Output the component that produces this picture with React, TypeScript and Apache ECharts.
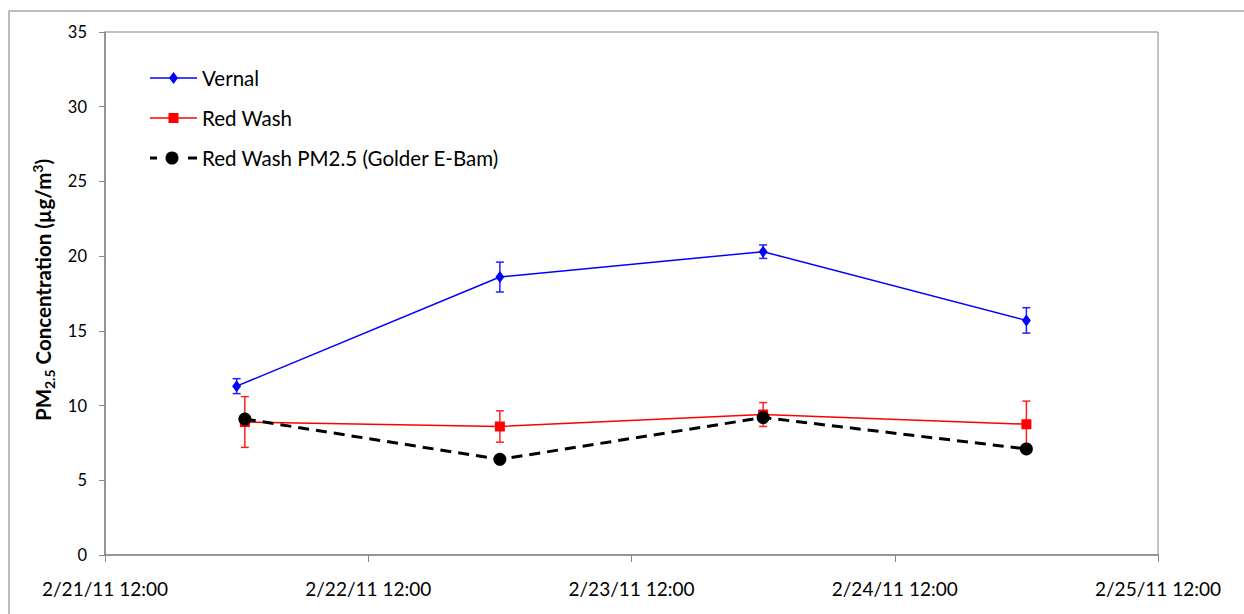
import React, { useEffect, useRef } from "react";
import * as echarts from "echarts";

// ---- data (times as M/D/YY HH:mm) ----
const ORIGIN = "2/21/11 12:00";
const xTickHours = [0, 24, 48, 72, 96];

const vernalTimes = ["2/22/11 00:00", "2/23/11 00:00", "2/24/11 00:00", "2/25/11 00:00"];
const vernalValues = [11.3, 18.6, 20.3, 15.7];
const vernalErrors = [0.5, 1.0, 0.45, 0.85];

const redWashTimes = ["2/22/11 00:45", "2/23/11 00:00", "2/24/11 00:00", "2/25/11 00:00"];
const redWashValues = [8.9, 8.6, 9.4, 8.75];
const redWashErrors = [1.7, 1.05, 0.8, 1.55];

const golderTimes = ["2/22/11 00:45", "2/23/11 00:00", "2/24/11 00:00", "2/25/11 00:00"];
const golderValues = [9.1, 6.4, 9.2, 7.1];

const yTicks = { min: 0, max: 35, interval: 5 };

const FONT = "Lato, 'Noto Sans', sans-serif";
const AXIS_COLOR = "#868686";

function parseTime(s: string): number {
  const [d, t] = s.split(" ");
  const [m, day, yy] = d.split("/").map(Number);
  const [hh, mm] = t.split(":").map(Number);
  return Date.UTC(2000 + yy, m - 1, day, hh, mm);
}
const originMs = parseTime(ORIGIN);
const toHours = (s: string) => (parseTime(s) - originMs) / 3600000;

function fmtHours(h: number): string {
  const d = new Date(originMs + h * 3600000);
  const hh = String(d.getUTCHours()).padStart(2, "0");
  const mm = String(d.getUTCMinutes()).padStart(2, "0");
  const yy = String(d.getUTCFullYear() % 100).padStart(2, "0");
  return `${d.getUTCMonth() + 1}/${d.getUTCDate()}/${yy} ${hh}:${mm}`;
}

function errorSeries(times: string[], vals: number[], errs: number[], color: string) {
  return {
    type: "custom",
    data: times.map((t, i) => [toHours(t), vals[i] - errs[i], vals[i] + errs[i]]),
    encode: { x: 0, y: [1, 2] },
    silent: true,
    renderItem: (params: any, api: any) => {
      const x = api.value(0);
      const lo = api.coord([x, api.value(1)]);
      const hi = api.coord([x, api.value(2)]);
      const cap = 4;
      const style = { stroke: color, lineWidth: 1.5, fill: "none" };
      return {
        type: "group",
        children: [
          { type: "line", shape: { x1: lo[0], y1: lo[1], x2: hi[0], y2: hi[1] }, style },
          { type: "line", shape: { x1: hi[0] - cap, y1: hi[1], x2: hi[0] + cap, y2: hi[1] }, style },
          { type: "line", shape: { x1: lo[0] - cap, y1: lo[1], x2: lo[0] + cap, y2: lo[1] }, style },
        ],
      };
    },
    z: 2,
  };
}

export default function App() {
  const ref = useRef<HTMLDivElement>(null);
  useEffect(() => {
    if (!ref.current) return;
    const chart = echarts.init(ref.current, undefined, { renderer: "svg" });
    const legendX = 150;
    const legendTextX = 202;
    const rows = [78, 118, 158];
    const LEG_FS = 20.5;
    const option: any = {
      animation: false,
      backgroundColor: "#ffffff",
      textStyle: { fontFamily: FONT },
      grid: {
        left: 105,
        top: 32,
        right: 86,
        bottom: 59,
        show: true,
        borderColor: AXIS_COLOR,
        borderWidth: 1,
        containLabel: false,
      },
      xAxis: {
        type: "value",
        min: xTickHours[0],
        max: xTickHours[xTickHours.length - 1],
        interval: 24,
        axisLine: { show: true, lineStyle: { color: AXIS_COLOR, width: 1.5 } },
        axisTick: { show: true, length: 7, lineStyle: { color: AXIS_COLOR, width: 1 } },
        splitLine: { show: false },
        axisLabel: {
          formatter: (v: number) => fmtHours(v),
          fontFamily: FONT,
          fontSize: 19,
          color: "#000",
          margin: 24,
          showMinLabel: true,
          showMaxLabel: true,
        },
      },
      yAxis: {
        type: "value",
        min: yTicks.min,
        max: yTicks.max,
        interval: yTicks.interval,
        axisLine: { show: true, lineStyle: { color: AXIS_COLOR, width: 1.5 } },
        axisTick: { show: true, length: 6, lineStyle: { color: AXIS_COLOR, width: 1 } },
        splitLine: { show: false },
        axisLabel: { fontFamily: FONT, fontSize: 16.5, color: "#000", margin: 18 },
      },
      series: [
        errorSeries(vernalTimes, vernalValues, vernalErrors, "#2020FF"),
        {
          name: "Vernal",
          type: "line",
          data: vernalTimes.map((t, i) => [toHours(t), vernalValues[i]]),
          symbol: "diamond",
          symbolSize: [9, 12],
          lineStyle: { color: "#0000FF", width: 1.5 },
          itemStyle: { color: "#0000FF" },
          z: 3,
        },
        errorSeries(redWashTimes, redWashValues, redWashErrors, "#FF2020"),
        {
          name: "Red Wash",
          type: "line",
          data: redWashTimes.map((t, i) => [toHours(t), redWashValues[i]]),
          symbol: "rect",
          symbolSize: 10,
          lineStyle: { color: "#FF0000", width: 1.5 },
          itemStyle: { color: "#FF0000" },
          z: 3,
        },
        {
          name: "Red Wash PM2.5 (Golder E-Bam)",
          type: "line",
          data: golderTimes.map((t, i) => [toHours(t), golderValues[i]]),
          symbol: "circle",
          symbolSize: 13,
          lineStyle: { color: "#000000", width: 3, type: [11, 7] },
          itemStyle: { color: "#000000" },
          z: 4,
        },
      ],
      graphic: [
        {
          type: "rect",
          shape: { x: 9, y: 11, width: 1400, height: 800 },
          style: { fill: "none", stroke: "#A6A6A6", lineWidth: 1.5 },
          silent: true,
          z: -10,
        },
        {
          type: "text",
          x: 43,
          y: 290,
          rotation: Math.PI / 2,
          style: {
            text: "{a|PM}{s|2.5}{a| Concentration (µg/m}{p|3}{a|)}",
            align: "center",
            verticalAlign: "middle",
            fill: "#000",
            rich: {
              a: { fontFamily: FONT, fontSize: 20.5, fontWeight: "bold", lineHeight: 26, verticalAlign: "middle", fill: "#000" },
              s: { fontFamily: FONT, fontSize: 14, fontWeight: "bold", lineHeight: 14, verticalAlign: "bottom", fill: "#000" },
              p: { fontFamily: FONT, fontSize: 14, fontWeight: "bold", lineHeight: 14, verticalAlign: "top", fill: "#000" },
            },
          },
        },
        // legend: Vernal
        { type: "line", shape: { x1: legendX, y1: rows[0], x2: legendX + 47, y2: rows[0] }, style: { stroke: "#0000FF", lineWidth: 1.5 } },
        { type: "polygon", shape: { points: [[173.5, rows[0] - 6], [178, rows[0]], [173.5, rows[0] + 6], [169, rows[0]]] }, style: { fill: "#0000FF" } },
        { type: "text", x: legendTextX, y: rows[0], style: { text: "Vernal", fontFamily: FONT, fontSize: LEG_FS, fill: "#000", verticalAlign: "middle" } },
        // legend: Red Wash
        { type: "line", shape: { x1: legendX, y1: rows[1], x2: legendX + 47, y2: rows[1] }, style: { stroke: "#FF0000", lineWidth: 1.5 } },
        { type: "rect", shape: { x: 168.5, y: rows[1] - 5, width: 10, height: 10 }, style: { fill: "#FF0000" } },
        { type: "text", x: legendTextX, y: rows[1], style: { text: "Red Wash", fontFamily: FONT, fontSize: LEG_FS, fill: "#000", verticalAlign: "middle" } },
        // legend: Golder
        { type: "line", shape: { x1: legendX, y1: rows[2], x2: legendX + 7, y2: rows[2] }, style: { stroke: "#000", lineWidth: 3 } },
        { type: "line", shape: { x1: 188, y1: rows[2], x2: 197, y2: rows[2] }, style: { stroke: "#000", lineWidth: 3 } },
        { type: "circle", shape: { cx: 172, cy: rows[2], r: 6.5 }, style: { fill: "#000" } },
        { type: "text", x: legendTextX, y: rows[2], style: { text: "Red Wash PM2.5 (Golder E-Bam)", fontFamily: FONT, fontSize: LEG_FS, fill: "#000", verticalAlign: "middle" } },
      ],
    };
    chart.setOption(option);
    return () => chart.dispose();
  }, []);
  return (
    <div
      ref={ref}
      style={{ position: "fixed", left: 0, top: 0, width: 1244, height: 614, background: "#fff" }}
    />
  );
}
